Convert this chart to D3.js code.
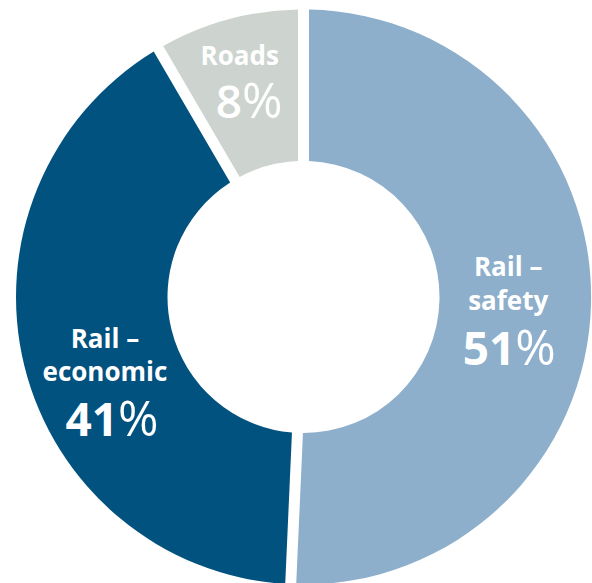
<!DOCTYPE html>
<html>
<head>
<meta charset="utf-8">
<script src="https://cdn.jsdelivr.net/npm/d3@7"></script>
<style>
  html, body { margin: 0; padding: 0; background: #ffffff; }
  svg { display: block; }
  text { font-family: "Open Sans", "Noto Sans", sans-serif; fill: #ffffff; }
</style>
</head>
<body>
<svg id="chart" width="592" height="583"></svg>
<script>
// ---- data ----
const categories = ["Rail – safety", "Rail – economic", "Roads"];
const labelLines = [["Rail –", "safety"], ["Rail –", "economic"], ["Roads"]];
const values = [51, 41, 8];
const colors = ["#8DAFCB", "#02527F", "#CDD4CF"];

// ---- layout ----
const cx = 303.5, cy = 297;
const outerR = 287.5, innerR = 136;
const gapPx = 11;

const svg = d3.select("#chart");
const g = svg.append("g").attr("transform", `translate(${cx},${cy})`);

const data = categories.map((c, i) => ({ name: c, value: values[i], lines: labelLines[i], color: colors[i] }));

const padR = Math.sqrt(innerR * innerR + outerR * outerR);
const pie = d3.pie().value(d => d.value).sort(null).padAngle(gapPx / padR);
const arc = d3.arc().innerRadius(innerR).outerRadius(outerR).padRadius(padR);

const arcs = pie(data);

g.selectAll("path.slice")
  .data(arcs)
  .join("path")
  .attr("class", "slice")
  .attr("d", arc)
  .attr("fill", d => d.data.color);

// label offsets relative to arc centroid (layout, not data)
const labelLayout = [
  { lineDx: -7, lineDy: [-26, 8], numDx: -6, numDy: 63, numWeight: 700 },
  { lineDx: 7, lineDy: [0, 33], numDx: 14, numDy: 88, numWeight: 700 },
  { lineDx: -8.5, lineDy: [-28], numDx: 1, numDy: 25, numWeight: 600 }
];

arcs.forEach((a, i) => {
  const [x, y] = arc.centroid(a);
  const L = labelLayout[i];
  a.data.lines.forEach((ln, j) => {
    g.append("text")
      .attr("x", x + L.lineDx)
      .attr("y", y + L.lineDy[j])
      .attr("text-anchor", "middle")
      .attr("font-size", 26)
      .attr("font-weight", 700)
      .text(ln);
  });
  const t = g.append("text")
    .attr("x", x + L.numDx)
    .attr("y", y + L.numDy)
    .attr("text-anchor", "middle")
    .attr("font-size", 46)
    .attr("font-weight", L.numWeight);
  t.append("tspan").text(a.data.value);
  t.append("tspan").attr("font-weight", 400).attr("font-size", 49).text("%");
});
</script>
</body>
</html>
